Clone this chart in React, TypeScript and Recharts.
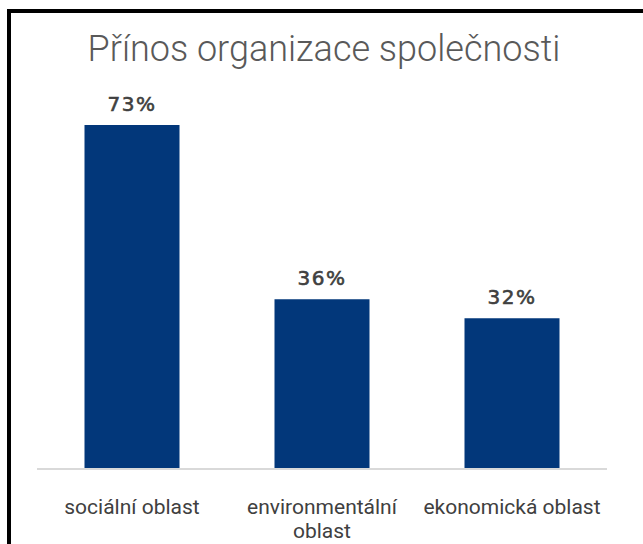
import { BarChart, Bar, XAxis, YAxis, LabelList } from "recharts";

const categories = ["sociální oblast", "environmentální oblast", "ekonomická oblast"];
const shares = [73, 36, 32];

const data = categories.map((name, i) => ({ name, value: shares[i] }));

const FONT = "Roboto, 'Noto Sans', sans-serif";

// long names go on two lines, like in the original
function CategoryTick(props: any) {
  const { x, y, payload } = props;
  const name: string = payload.value;
  const lines = name.length > 18 ? name.split(" ") : [name];
  return (
    <text
      x={x}
      y={y + 37}
      textAnchor="middle"
      style={{ fontFamily: FONT, fontSize: 21, fill: "#404040" }}
    >
      {lines.map((l, i) => (
        <tspan key={i} x={x} dy={i === 0 ? 0 : 24}>
          {l}
        </tspan>
      ))}
    </text>
  );
}

export default function App() {
  return (
    <div style={{ position: "fixed", inset: 0, overflow: "hidden", background: "#fff" }}>
      <div
        style={{
          position: "absolute",
          left: 7,
          top: 9,
          width: 680,
          height: 600,
          border: "4px solid #000",
        }}
      />
      <div
        style={{
          position: "absolute",
          left: 0,
          top: 28,
          width: 648,
          textAlign: "center",
          fontFamily: FONT,
          fontWeight: 300,
          fontSize: 36,
          color: "#595959",
        }}
      >
        Přínos organizace společnosti
      </div>
      <div style={{ position: "absolute", left: 0, top: 0 }}>
        <BarChart
          width={643}
          height={544}
          data={data}
          margin={{ top: 92, right: 36, left: 37, bottom: 0 }}
          barCategoryGap="25%"
        >
          <XAxis
            dataKey="name"
            height={75}
            axisLine={{ stroke: "#d9d9d9", strokeWidth: 2 }}
            tickLine={false}
            interval={0}
            tick={<CategoryTick />}
          />
          <YAxis hide domain={[0, 80]} />
          <Bar dataKey="value" fill="#02377a" isAnimationActive={false}>
            <LabelList
              dataKey="value"
              position="top"
              offset={14}
              formatter={(v: any) => `${v}%`}
              style={{
                fontFamily: "'DejaVu Sans', sans-serif",
                fontSize: 20,
                letterSpacing: 1.5,
                fill: "#404040",
                stroke: "#404040",
                strokeWidth: 0.6,
              }}
            />
          </Bar>
        </BarChart>
      </div>
    </div>
  );
}
